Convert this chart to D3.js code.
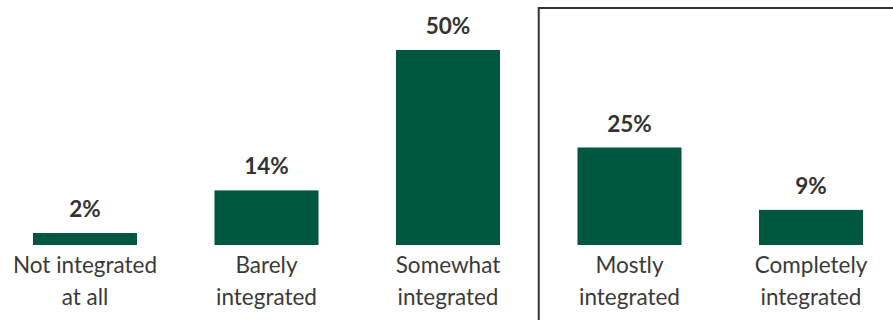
<!DOCTYPE html>
<html>
<head>
<meta charset="utf-8">
<script src="https://cdn.jsdelivr.net/npm/d3@7"></script>
<style>
    body { margin: 0; background: #fff; }
    .value { font-family: Lato, "Open Sans", sans-serif; font-weight: 700; font-size: 22.5px; fill: #333; }
    .cat { font-family: Lato, "Open Sans", sans-serif; font-size: 22.5px; fill: #3a3a3a; }
</style>
</head>
<body>
<script>
//Chart data
var categories = ['Not integrated at all', 'Barely integrated', 'Somewhat integrated', 'Mostly integrated', 'Completely integrated'];
var labelLines = [['Not integrated', 'at all'], ['Barely', 'integrated'], ['Somewhat', 'integrated'], ['Mostly', 'integrated'], ['Completely', 'integrated']];
var values = [2, 14, 50, 25, 9];
var highlighted = ['Mostly integrated', 'Completely integrated'];

function drawChart(){
    var width = 893,
        height = 320,
        baseline = 245,
        minBar = 12;

    var svg = d3.select('body')
        .append('svg')
        .attr('width', width)
        .attr('height', height);

    //Band scale for categories
    var x = d3.scaleBand()
        .domain(categories)
        .range([-5.75, 901.75])
        .paddingInner(0.427)
        .paddingOuter(0.2135);

    //Linear scale for percentages
    var y = d3.scaleLinear()
        .domain([0, 50])
        .range([baseline, 50]);

    //Outline box around the highlighted group
    var first = x(highlighted[0]);
    var boxLeft = first - (x.step() - x.bandwidth()) / 2;
    svg.append('rect')
        .attr('x', boxLeft)
        .attr('y', 8)
        .attr('width', width)
        .attr('height', height)
        .attr('fill', 'none')
        .attr('stroke', '#333')
        .attr('stroke-width', 2);

    function barTop(v){
        return Math.min(y(v), baseline - minBar);
    }

    //Bars
    svg.selectAll('.bar')
        .data(values)
        .enter()
        .append('rect')
        .attr('class', 'bar')
        .attr('x', function(d, i){ return x(categories[i]); })
        .attr('y', function(d){ return barTop(d); })
        .attr('width', x.bandwidth())
        .attr('height', function(d){ return baseline - barTop(d); })
        .attr('fill', '#00573f');

    //Value labels
    svg.selectAll('.value')
        .data(values)
        .enter()
        .append('text')
        .attr('class', 'value')
        .attr('text-anchor', 'middle')
        .attr('x', function(d, i){ return x(categories[i]) + x.bandwidth() / 2; })
        .attr('y', function(d){ return barTop(d) - 16; })
        .text(function(d){ return d + '%'; });

    //Category labels (two lines each)
    var cats = svg.selectAll('.cat')
        .data(labelLines)
        .enter()
        .append('text')
        .attr('class', 'cat')
        .attr('text-anchor', 'middle')
        .attr('x', function(d, i){ return x(categories[i]) + x.bandwidth() / 2; })
        .attr('y', baseline + 28);
    cats.selectAll('tspan')
        .data(function(d){ return d; })
        .enter()
        .append('tspan')
        .attr('x', function(){ return d3.select(this.parentNode).attr('x'); })
        .attr('dy', function(d, i){ return i === 0 ? 0 : 32; })
        .text(function(d){ return d; });
}

window.onload = drawChart;
</script>
</body>
</html>
